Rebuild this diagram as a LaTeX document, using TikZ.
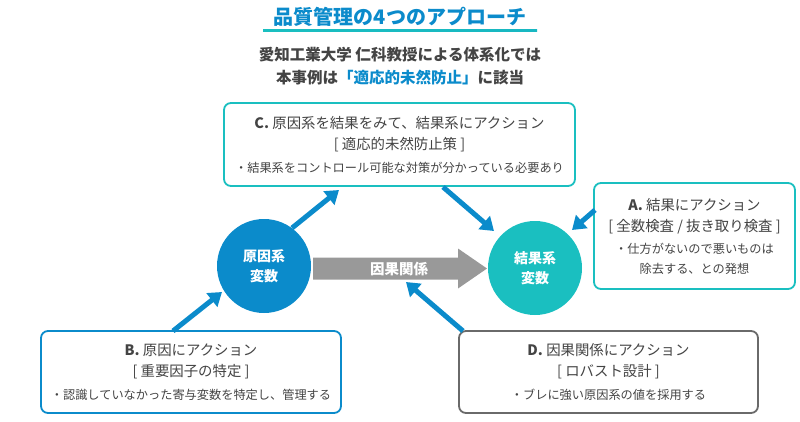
\documentclass[tikz,border=0pt]{standalone}
\usepackage{fontspec}
\setmainfont{Noto Sans CJK JP}
\usetikzlibrary{arrows.meta}

\definecolor{qblue}{HTML}{0B8BCB}
\definecolor{qteal}{HTML}{1ABFC0}
\definecolor{qtext}{HTML}{444444}
\definecolor{qgray}{HTML}{999999}
\definecolor{qframe}{HTML}{6A6A6A}

\tikzset{
  card/.style={draw, rounded corners=7pt, line width=1.8pt, fill=white,
    align=center, text=qtext, inner sep=0pt, font=\fontsize{14.4}{21}\selectfont},
  varcircle/.style={circle, minimum size=94pt, inner sep=0pt, text=white,
    align=center, font=\fontsize{14}{20}\selectfont\bfseries},
  push/.style={qblue, line width=5pt, -{Triangle[width=17pt,length=13pt]}},
}
\newcommand\cardkey[1]{{\bfseries #1}}
\newcommand\cardnote[1]{{\fontsize{12.2}{20}\selectfont #1}}

\begin{document}
\begin{tikzpicture}[x=1pt,y=-1pt]
  \useasboundingbox (0,0) rectangle (800,421);

  % Title and subtitle
  \node[text=qblue, font=\fontsize{20}{24}\selectfont\bfseries] (title) at (400,17)
    {品質管理の4つのアプローチ};
  \shade[left color=qteal, right color=qteal!85!qblue] (263,29.5) rectangle (537,31.5);
  \node[text=qtext, align=center, font=\fontsize{15.5}{23}\selectfont\bfseries] (sub) at (400,66.5)
    {愛知工業大学 仁科教授による体系化では\\
     本事例は{\color{qblue}「適応的未然防止」}に該当};

  % Variables and causal relation
  \node[varcircle, fill=qblue] (cause) at (264,266) {原因系\\変数};
  \node[varcircle, fill=qteal] (effect) at (535,268) {結果系\\変数};
  \fill[qgray] (313,257.5) -- (458,257.5) -- (458,248.5) -- (487,268.5)
    -- (458,288.5) -- (458,279.5) -- (313,279.5) -- cycle;
  \node[text=white, font=\fontsize{14.5}{16}\selectfont\bfseries] (relation) at (399,268.5)
    {因果関係};

  % Approach cards
  \node[card, draw=qteal, minimum width=351pt, minimum height=83pt] (cardC) at (399.5,144.5)
    {\cardkey{C.} 原因系を結果をみて、結果系にアクション\\
     {[ 適応的未然防止策 ]}\\[2pt]
     \cardnote{・結果系をコントロール可能な対策が分かっている必要あり}};
  \node[card, draw=qteal, minimum width=201pt, minimum height=106pt] (cardA) at (694.5,236)
    {\cardkey{A.} 結果にアクション\\
     {[ 全数検査 / 抜き取り検査 ]}\\[1pt]
     \cardnote{・仕方がないので悪いものは}\\[-1pt]
     \cardnote{除去する、との発想}};
  \node[card, draw=qblue, minimum width=300pt, minimum height=82pt] (cardB) at (191,372)
    {\cardkey{B.} 原因にアクション\\
     {[ 重要因子の特定 ]}\\[2pt]
     \cardnote{・認識していなかった寄与変数を特定し、管理する}};
  \node[card, draw=qframe, minimum width=299pt, minimum height=82pt] (cardD) at (608.5,372)
    {\cardkey{D.} 因果関係にアクション\\
     {[ ロバスト設計 ]}\\[2pt]
     \cardnote{・ブレに強い原因系の値を採用する}};

  % Arrow ends
  \coordinate (c1s) at (292,228);
  \coordinate (c1e) at (339,190);
  \coordinate (c2s) at (443,187);
  \coordinate (c2e) at (494,231);
  \coordinate (as) at (595,210);
  \coordinate (ae) at (572,230);
  \coordinate (bs) at (173,331);
  \coordinate (be) at (222,292);
  \coordinate (ds) at (463,331);
  \coordinate (de) at (406,282);

  \draw[push] (c1s) -- (c1e);
  \draw[push] (c2s) -- (c2e);
  \draw[push] (as) -- (ae);
  \draw[push] (bs) -- (be);
  \draw[push] (ds) -- (de);
\end{tikzpicture}
\end{document}
